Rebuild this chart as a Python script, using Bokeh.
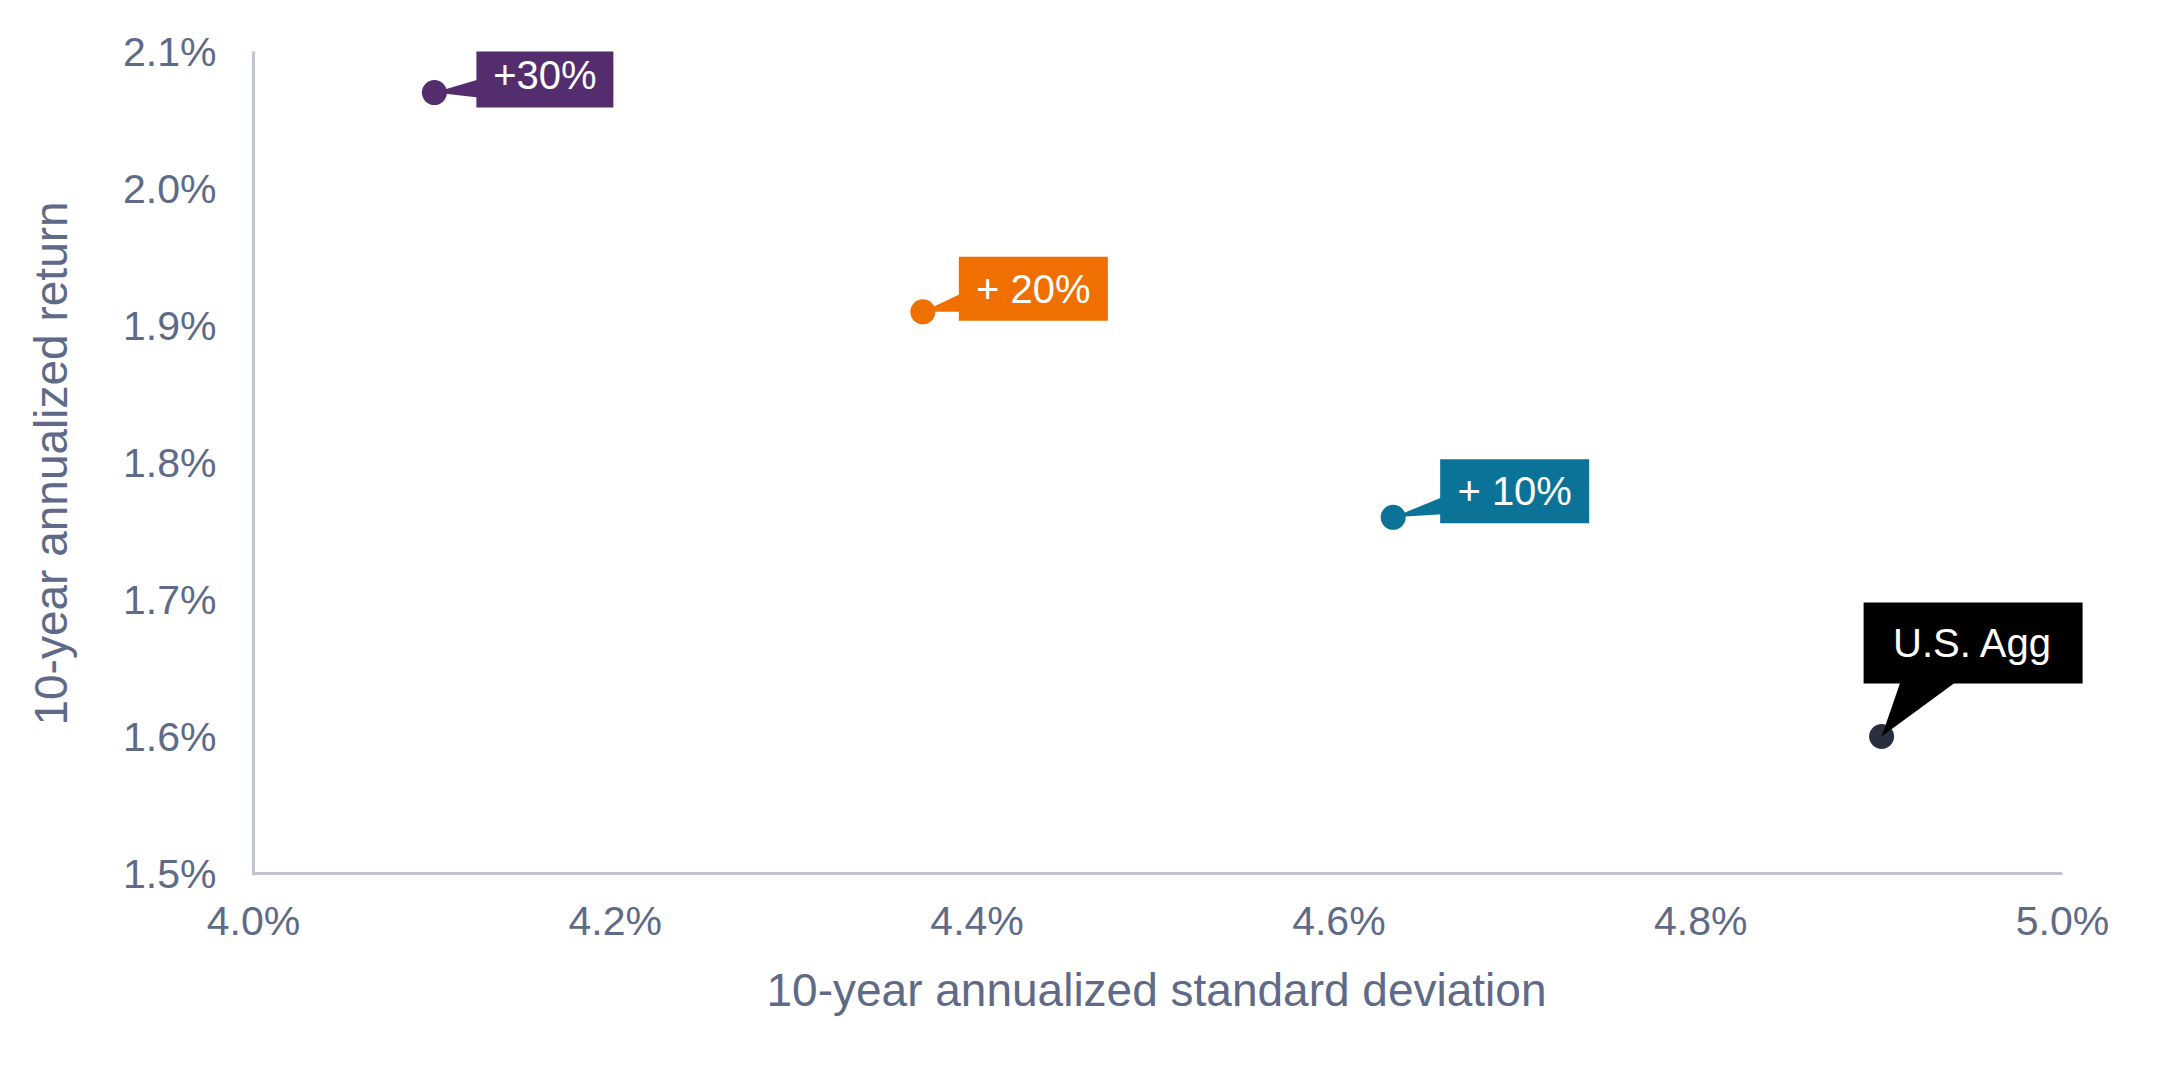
from bokeh.plotting import figure
from bokeh.models import Range1d, FixedTicker, PrintfTickFormatter, Title
from bokeh.embed import file_html
from bokeh.resources import INLINE
from bokeh.core.properties import value

# ---- data ----
labels = ["+30%", "+ 20%", "+ 10%", "U.S. Agg"]
std_dev = [4.10, 4.37, 4.63, 4.90]
returns = [2.07, 1.91, 1.76, 1.60]
dot_colors = ["#532D6D", "#EF6F00", "#0B7398", "#2A2F3F"]
box_colors = ["#532D6D", "#EF6F00", "#0B7398", "#000000"]
x_ticks = [4.0, 4.2, 4.4, 4.6, 4.8, 5.0]
y_ticks = [1.5, 1.6, 1.7, 1.8, 1.9, 2.0, 2.1]
x_title = "10-year annualized standard deviation"
y_title = "10-year annualized return"

# ---- layout ----
W, H = 2143, 1054
L, T = 253, 51
PX_X, PX_Y = 1809, 822          # pixel length of the 4.0-5.0 and 1.5-2.1 spans
x0, x1 = 4.0, 5.0
y0, y1 = 1.5, 2.1
sx = PX_X / (x1 - x0)
sy = PX_Y / (y1 - y0)
EXTRA_R, EXTRA_B = 40, 2        # frame extension so callouts are not clipped
fw, fh = PX_X + EXTRA_R, PX_Y + EXTRA_B
R = W - L - fw
B = H - T - fh

FONT = "Liberation Sans"
AXIS_COL = "#5E6A88"
LINE_COL = "#C0C5D0"

p = figure(frame_width=fw, frame_height=fh,
           min_border_left=L, min_border_right=R, min_border_top=T, min_border_bottom=B,
           x_range=Range1d(x0, x1 + EXTRA_R / sx), y_range=Range1d(y0 - EXTRA_B / sy, y1),
           output_backend="svg", toolbar_location=None)
p.outline_line_color = None
p.grid.visible = False
p.background_fill_color = "white"
p.border_fill_color = "white"

for ax, ticks in ((p.xaxis[0], x_ticks), (p.yaxis[0], y_ticks)):
    ax.ticker = FixedTicker(ticks=ticks)
    ax.formatter = PrintfTickFormatter(format="%.1f%%")
    ax.major_tick_line_color = None
    ax.minor_tick_line_color = None
    ax.axis_line_color = LINE_COL
    ax.axis_line_width = 3
    ax.major_label_text_font = FONT
    ax.major_label_text_font_size = "41px"
    ax.major_label_text_color = AXIS_COL
    ax.axis_label_text_font = FONT
    ax.axis_label_text_font_size = "46px"
    ax.axis_label_text_color = AXIS_COL
    ax.axis_label_text_font_style = "normal"

p.xaxis.axis_line_color = None
p.yaxis.axis_label = y_title
p.xaxis.major_label_standoff = 16
p.yaxis.major_label_standoff = 31
p.yaxis.axis_label_standoff = 43

# x axis title, centred under the 4.0-5.0 span
title_w = 783
p.add_layout(Title(text=x_title, align="left", offset=round(PX_X / 2 - title_w / 2),
                   standoff=30, text_font=FONT, text_font_size="46px",
                   text_font_style="normal", text_color=AXIS_COL), "below")

# x axis line drawn only over the 4.0-5.0 span
p.segment(x0=[x_ticks[0]], y0=[y0], x1=[x_ticks[-1]], y1=[y0],
          line_color=LINE_COL, line_width=3)

# dots
p.scatter(std_dev, returns, size=25, color=dot_colors, line_color=None)

# callout geometry (screen pixels relative to point; +dy is up)
# (box center dx, dy, box w, h, tail side, tail edge, tail span)
callouts = [
    (110.5, 17.5, 137, 65, "left", 42, (13, -5)),
    (110.5, 23.0, 149, 64, "left", 36, (18, 0)),
    (121.5, 26.0, 149, 64, "left", 47, (20, 3)),
    (91.5, 93.5, 219, 81, "bottom", 53, (19, 75)),
]

lefts, rights, tops, bottoms = [], [], [], []
tx, ty = [], []
wx, wy = [], []
for xv, yv, (dx, dy, w, h, side, edge, (a, b)) in zip(std_dev, returns, callouts):
    cx = xv + dx / sx
    cy = yv + dy / sy
    lefts.append(cx - w / 2 / sx)
    rights.append(cx + w / 2 / sx)
    tops.append(cy + h / 2 / sy)
    bottoms.append(cy - h / 2 / sy)
    tx.append(cx)
    ty.append(cy)
    if side == "left":
        ex = xv + (edge + 2) / sx
        wx.append([xv, ex, ex])
        wy.append([yv, yv + a / sy, yv + b / sy])
    else:
        ey = yv + (edge + 2) / sy
        wx.append([xv, xv + a / sx, xv + b / sx])
        wy.append([yv, ey, ey])

p.patches(wx, wy, fill_color=box_colors, line_color=None)
p.quad(left=lefts, right=rights, top=tops, bottom=bottoms,
       fill_color=box_colors, line_color=None)
p.text(tx, ty, text=labels, text_align="center", text_baseline="middle",
       text_color="white", text_font=value(FONT), text_font_size="40px")

open("out.html", "w").write(file_html(p, INLINE))
